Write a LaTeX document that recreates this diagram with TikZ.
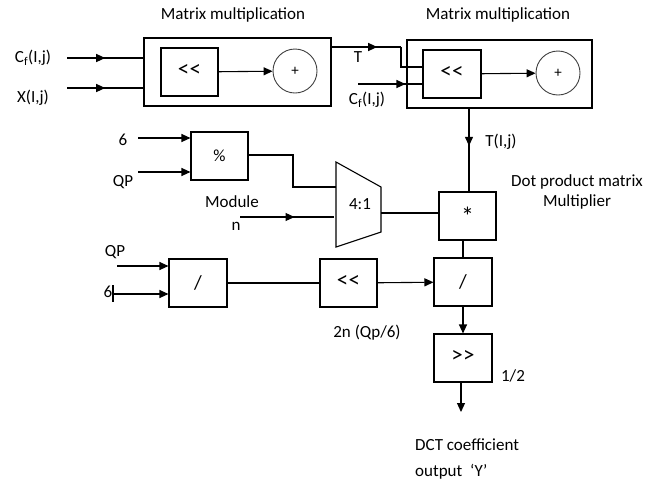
\documentclass[tikz,border=0pt]{standalone}
\usepackage{fontspec}
\setmainfont{Carlito}
\usetikzlibrary{arrows.meta,decorations.markings}

\tikzset{
  blk/.style={draw, line width=1.1pt, minimum width=57pt, minimum height=48pt, inner sep=0pt},
  mmbox/.style={draw, line width=1.1pt, minimum height=68pt, inner sep=0pt},
  addr/.style={circle, draw=black!75, line width=0.9pt, minimum size=44pt, inner sep=0pt},
  lbl/.style={inner sep=1pt},
  wire/.style={line width=1.1pt},
  midarrow/.style={wire, postaction={decorate},
    decoration={markings, mark=at position #1 with {\arrow{Triangle[length=9pt,width=8pt]}}}},
}
\newcommand{\shl}{{\fontsize{23}{23}\selectfont\raisebox{3pt}{<\kern0.5pt<}}}
\newcommand{\shr}{{\fontsize{23}{23}\selectfont\raisebox{3pt}{>\kern0.5pt>}}}

\begin{document}
\begin{tikzpicture}[x=1pt, y=-1pt, >={Triangle[length=9pt,width=8pt]},
  font=\fontsize{17}{20}\selectfont]
  \useasboundingbox (0,0) rectangle (661,483);

  % first matrix multiplication
  \node[lbl] (titleA) at (233,15) {Matrix multiplication};
  \node[mmbox, minimum width=187pt] (mmA) at (237.5,72) {};
  \node[blk] (shA) at (189.5,72) {\shl};
  \node[addr] (addA) at (295,71) {\fontsize{15}{15}\selectfont +};
  \draw[wire,->] (shA) -- (addA);

  \node[lbl] (cfA) at (33,58) {C\textsubscript{f}(I,j)};
  \node[lbl] (xin) at (33,98) {X(I,j)};
  \coordinate (cfAs) at (67,58);
  \coordinate (xins) at (67,88);
  \draw[midarrow=0.5] (cfAs) -- (cfAs -| mmA.west);
  \draw[midarrow=0.5] (xins) -- (xins -| mmA.west);

  % second matrix multiplication
  \node[lbl] (titleB) at (498,15) {Matrix multiplication};
  \node[mmbox, minimum width=185pt] (mmB) at (499.5,74) {};
  \node[blk, minimum width=58pt] (shB) at (452,74) {\shl};
  \node[addr] (addB) at (558,73) {\fontsize{15}{15}\selectfont +};
  \draw[wire,->] (shB) -- (addB);

  \coordinate (tout) at (331,47);
  \coordinate (tbend) at (401,47);
  \node[lbl] (tlbl) at (358,57) {T};
  \draw[midarrow=0.66] (tout) -- (tbend);
  \draw[wire] (tbend) |- (423,67);

  \node[lbl] (cfB) at (367,100) {C\textsubscript{f}(I,j)};
  \coordinate (cfBs) at (358,84);
  \draw[midarrow=0.98] (cfBs) -- (cfBs -| mmB.west);
  \draw[wire] (cfBs -| mmB.west) -- (cfBs -| shB.west);

  % modulo and multiplexer
  \node[blk] (mod) at (219.5,156) {\%};
  \node[lbl] (sixA) at (123,140) {6};
  \node[lbl] (qpA) at (123,182) {QP};
  \coordinate (sixAs) at (138,138);
  \coordinate (qpAs) at (138,172);
  \draw[wire,->] (sixAs) -- (sixAs -| mod.west);
  \draw[wire,->] (qpAs) -- (qpAs -| mod.west);

  \draw[wire] (336,162) -- (381,187) -- (381,232) -- (336,247) -- cycle;
  \node[lbl] (mux) at (360,204) {4:1};
  \draw[wire] (mod.east |- 0,155) -- (293,155) |- (336,187);

  \node[lbl] (modn) at (232,202) {Module};
  \node[lbl] (nlbl) at (236,226) {n};
  \coordinate (modns) at (240,217);
  \draw[midarrow=0.58] (modns) -- (334,217);

  % dot product multiplier
  \node[blk] (mul) at (467.5,216) {\fontsize{26}{26}\selectfont\raisebox{-5pt}{*}};
  \draw[wire] (381,213) -- (mul.west |- 0,213);
  \draw[midarrow=0.45] (mmB.south -| 469,0) -- (mul.north -| 469,0);
  \node[lbl] (tij) at (501,142) {T(I,j)};
  \node[lbl, align=center] (dotp) at (577,192) {Dot product matrix\\Multiplier};

  % quantisation path
  \node[blk, minimum width=58pt] (divA) at (198,283) {\fontsize{20}{20}\selectfont /};
  \node[lbl] (qpB) at (115,252) {QP};
  \node[lbl] (sixB) at (108,292) {6};
  \coordinate (qpBs) at (117,266);
  \coordinate (sixBs) at (113,294);
  \draw[line width=2pt] (113,285) -- (113,302);
  \draw[wire,->] (qpBs) -- (qpBs -| divA.west);
  \draw[wire,->] (sixBs) -- (sixBs -| divA.west);

  \node[blk] (shC) at (348.5,283) {\shl};
  \node[blk, minimum width=58pt] (divB) at (463,282) {\fontsize{20}{20}\selectfont /};
  \draw[wire] (divA) -- (shC);
  \draw[wire,->] (shC) -- (divB);
  \draw[wire] (mul.south -| divB) -- (divB.north);
  \node[lbl] (qp6) at (367,333) {2n (Qp/6)};

  % output
  \node[blk, minimum width=58pt] (shrb) at (463,358) {\shr};
  \draw[wire,->] (divB) -- (shrb);
  \node[lbl] (half) at (513,376) {1/2};
  \coordinate (yout) at (461,412);
  \draw[wire,->] (shrb.south -| yout) -- (yout);
  \node[lbl, anchor=west] (dctA) at (414,445) {DCT coefficient};
  \node[lbl, anchor=west] (dctB) at (414,472) {output~~‘Y’};
\end{tikzpicture}
\end{document}
